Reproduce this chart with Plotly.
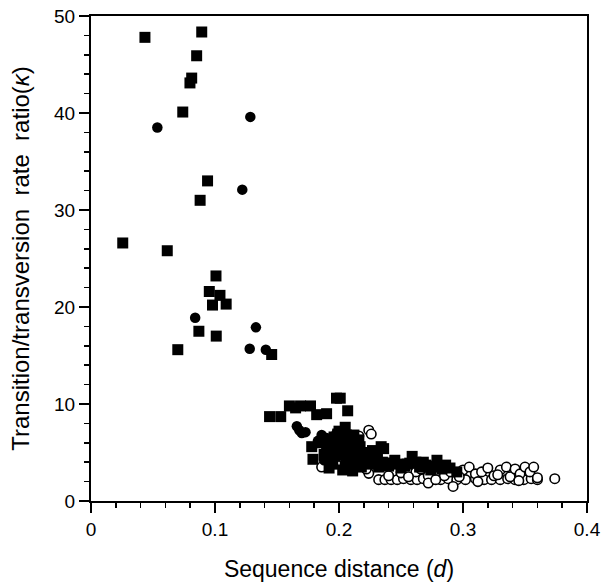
import plotly.graph_objects as go

# Filled squares
sq_d = [0.0435, 0.0893, 0.0852, 0.0812, 0.0798, 0.074, 0.094, 0.088, 0.0256, 0.0615,
        0.1008, 0.0954, 0.104, 0.098, 0.109, 0.087, 0.101, 0.070, 0.1457,
        0.144, 0.153, 0.160, 0.165, 0.169, 0.177, 0.182, 0.190, 0.198, 0.201, 0.207,
        0.178, 0.179, 0.234, 0.236,
        0.185, 0.190, 0.192, 0.195, 0.198, 0.200, 0.203, 0.205, 0.208, 0.210, 0.212,
        0.215, 0.218, 0.220, 0.222, 0.225, 0.228, 0.232, 0.235, 0.240, 0.245, 0.250,
        0.255, 0.259, 0.265, 0.270, 0.279, 0.283, 0.2895, 0.295, 0.196, 0.200, 0.205,
        0.212, 0.217, 0.226, 0.262, 0.274, 0.286,
        0.188, 0.193, 0.197, 0.202, 0.206, 0.209, 0.214, 0.219, 0.223, 0.227, 0.231,
        0.237, 0.243, 0.248, 0.253, 0.257, 0.268, 0.277, 0.281, 0.192, 0.203, 0.211,
        0.199, 0.207, 0.216]
sq_k = [47.8, 48.35, 45.9, 43.6, 43.1, 40.1, 33.0, 31.0, 26.6, 25.8,
        23.2, 21.6, 21.2, 20.2, 20.3, 17.5, 17.0, 15.6, 15.1,
        8.7, 8.7, 9.8, 9.6, 9.8, 9.8, 8.9, 9.0, 10.6, 10.6, 9.3,
        5.6, 4.3, 5.6, 5.4,
        6.0, 5.2, 4.4, 3.8, 5.8, 4.8, 6.2, 3.6, 4.5, 5.4, 3.9,
        4.8, 3.5, 4.2, 5.0, 3.8, 4.4, 3.5, 4.0, 3.6, 4.2, 3.4,
        3.8, 4.6, 3.5, 3.7, 4.2, 3.3, 3.4, 3.0, 6.6, 7.2, 7.6,
        6.8, 5.6, 4.6, 4.0, 3.2, 3.7,
        4.8, 6.2, 4.6, 5.4, 6.8, 4.0, 5.9, 4.9, 4.0, 5.2, 4.5,
        3.9, 3.9, 3.8, 3.6, 3.9, 4.0, 3.6, 3.5, 3.4, 3.2, 3.1,
        6.9, 5.0, 6.3]

# Filled circles
fc_d = [0.1285, 0.0535, 0.122, 0.084, 0.133, 0.128, 0.141,
        0.166, 0.170, 0.173, 0.186, 0.190, 0.195, 0.200, 0.205, 0.210, 0.215, 0.220,
        0.188, 0.198, 0.168, 0.183, 0.193, 0.203]
fc_k = [39.6, 38.5, 32.1, 18.9, 17.9, 15.7, 15.6,
        7.7, 7.0, 7.1, 6.8, 6.5, 5.8, 5.0, 4.4, 6.0, 3.8, 4.6,
        4.2, 7.0, 7.3, 6.2, 5.4, 6.5]

# Open circles
oc_d = [0.186, 0.206, 0.216, 0.224, 0.226, 0.224, 0.222,
        0.232, 0.237, 0.242, 0.247, 0.252, 0.258, 0.263, 0.268, 0.275, 0.282, 0.288,
        0.295, 0.302, 0.310, 0.317, 0.323, 0.330, 0.336, 0.342, 0.349, 0.355, 0.360, 0.374,
        0.250, 0.262, 0.272, 0.272, 0.292, 0.300, 0.305, 0.310, 0.315, 0.320, 0.325,
        0.330, 0.335, 0.338, 0.342, 0.346, 0.350, 0.354, 0.357, 0.360, 0.285, 0.290,
        0.297, 0.278, 0.240, 0.256, 0.266, 0.312, 0.328, 0.345]
oc_k = [3.5, 3.5, 6.7, 7.3, 6.9, 2.85, 3.3,
        2.2, 2.2, 2.2, 2.2, 2.3, 2.2, 2.2, 2.3, 2.2, 2.2, 2.3,
        2.2, 2.2, 2.3, 2.2, 2.2, 2.2, 2.3, 2.2, 2.2, 2.3, 2.2, 2.3,
        2.9, 3.0, 2.6, 1.85, 1.5, 3.2, 3.5, 2.8, 3.0, 3.4, 2.6,
        3.2, 3.5, 2.5, 3.3, 2.8, 3.5, 3.0, 3.5, 2.4, 2.6, 3.0,
        2.5, 2.2, 2.6, 2.5, 3.3, 2.0, 2.7, 2.1]

x_ticks = [0, 0.1, 0.2, 0.3, 0.4]
x_labels = ["0", "0.1", "0.2", "0.3", "0.4"]
y_ticks = [0, 10, 20, 30, 40, 50]
y_labels = ["0", "10", "20", "30", "40", "50"]

fig = go.Figure()
fig.add_trace(go.Scatter(x=oc_d, y=oc_k, mode="markers", cliponaxis=False,
                         marker=dict(symbol="circle", size=9.5, color="white",
                                     line=dict(color="black", width=1.6))))
fig.add_trace(go.Scatter(x=sq_d, y=sq_k, mode="markers", cliponaxis=False,
                         marker=dict(symbol="square", size=11, color="black",
                                     line=dict(width=0))))
fig.add_trace(go.Scatter(x=fc_d, y=fc_k, mode="markers", cliponaxis=False,
                         marker=dict(symbol="circle", size=10.5, color="black",
                                     line=dict(width=0))))

font = "Liberation Sans, Arial, Helvetica, sans-serif"
fig.update_layout(
    width=604, height=583,
    margin=dict(l=91, r=17, t=16, b=82, autoexpand=False),
    paper_bgcolor="white", plot_bgcolor="white",
    showlegend=False,
    font=dict(family=font, color="black", size=19),
    xaxis=dict(range=[0, 0.4], tickvals=x_ticks, ticktext=x_labels, automargin=False,
               showgrid=False, zeroline=False, showline=True, linecolor="black",
               linewidth=2, mirror=True, ticks="outside", ticklen=10, tickwidth=2,
               tickcolor="black", tickfont=dict(size=19),
               minor=dict(dtick=0.02, ticks="outside", ticklen=5, tickwidth=1.5,
                          tickcolor="black", showgrid=False),
               title=dict(text="Sequence distance (<i>d</i>)", font=dict(size=23),
                          standoff=22)),
    yaxis=dict(range=[0, 50], tickvals=y_ticks, ticktext=y_labels, automargin=False,
               showgrid=False, zeroline=False, showline=True, linecolor="black",
               linewidth=2, mirror=True, ticks="outside", ticklen=10, tickwidth=2,
               tickcolor="black", tickfont=dict(size=19),
               minor=dict(dtick=2, ticks="outside", ticklen=5, tickwidth=1.5,
                          tickcolor="black", showgrid=False),
               title=dict(text="Transition/transversion\u00a0 rate\u00a0 ratio(<i>κ</i>)",
                          font=dict(size=24), standoff=18)),
)

fig.write_html("out.html", config={"displayModeBar": False, "staticPlot": True},
               post_script="document.body.style.margin='0';document.body.style.overflow='hidden';")
